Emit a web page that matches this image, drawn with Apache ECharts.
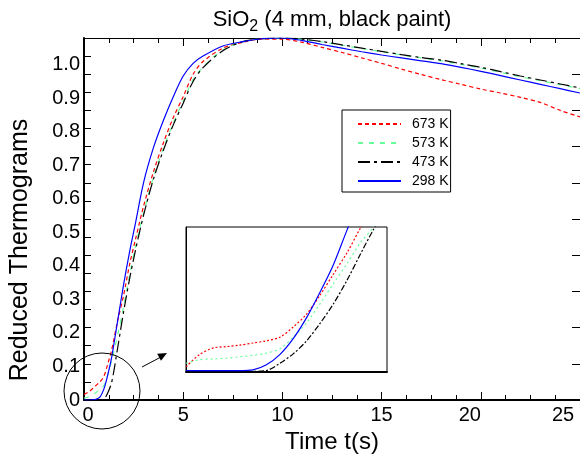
<!DOCTYPE html>
<html>
<head>
<meta charset="utf-8">
<script src="https://cdn.jsdelivr.net/npm/echarts@6/dist/echarts.min.js"></script>
<style>
html,body{margin:0;padding:0;background:#fff;}
#chart{width:580px;height:460px;}
</style>
</head>
<body>
<div id="chart"></div>
<script>
// ---- main curves (time in s, reduced thermogram) ----
var timeS = [0, 0.3, 0.6, 0.8, 1.0, 1.2, 1.4, 1.7, 2.0, 2.3, 2.6, 3.0, 3.5, 4.0, 4.5, 5.0, 5.5, 6.0, 7.0, 8.0, 9.0, 10, 11, 12, 13, 14, 15, 16, 17, 18, 19, 20, 21, 22, 23, 24, 25];
var v673 = [0.015, 0.025, 0.04, 0.05, 0.065, 0.10, 0.14, 0.22, 0.29, 0.375, 0.445, 0.535, 0.63, 0.71, 0.78, 0.838, 0.90, 0.935, 0.972, 0.988, 0.997, 0.997, 0.988, 0.974, 0.96, 0.945, 0.93, 0.914, 0.899, 0.885, 0.872, 0.859, 0.848, 0.836, 0.822, 0.80, 0.782];
var v573 = [0.005, 0.01, 0.02, 0.03, 0.04, 0.07, 0.11, 0.18, 0.26, 0.345, 0.425, 0.515, 0.615, 0.695, 0.765, 0.825, 0.885, 0.92, 0.967, 0.99, 0.998, 1.0, 0.996, 0.989, 0.98, 0.971, 0.962, 0.953, 0.945, 0.937, 0.927, 0.917, 0.905, 0.893, 0.882, 0.871, 0.86];
var v473 = [0, 0, 0, 0, 0.002, 0.02, 0.05, 0.145, 0.245, 0.335, 0.415, 0.51, 0.61, 0.69, 0.76, 0.82, 0.88, 0.918, 0.965, 0.99, 0.998, 1.0, 0.997, 0.99, 0.981, 0.972, 0.963, 0.954, 0.946, 0.939, 0.929, 0.919, 0.907, 0.895, 0.884, 0.873, 0.862];
var v298 = [0, 0, 0.002, 0.008, 0.03, 0.07, 0.12, 0.22, 0.32, 0.41, 0.49, 0.60, 0.697, 0.772, 0.838, 0.895, 0.93, 0.95, 0.978, 0.99, 0.998, 1.0, 0.993, 0.982, 0.972, 0.962, 0.953, 0.945, 0.937, 0.929, 0.919, 0.908, 0.896, 0.884, 0.872, 0.86, 0.848];

// ---- inset (zoom of the early-time region) ----
var insetTime = [0, 0.1, 0.2, 0.3, 0.4, 0.5, 0.6, 0.7, 0.8, 0.9, 1.0, 1.1, 1.2, 1.3, 1.4, 1.5];
var inset673 = [0.007, 0.024, 0.033, 0.035, 0.037, 0.040, 0.043, 0.048, 0.062, 0.08, 0.106, 0.135, 0.164, 0.198, 0.23, 0.26];
var inset573 = [0.012, 0.017, 0.018, 0.019, 0.021, 0.023, 0.026, 0.032, 0.048, 0.068, 0.094, 0.122, 0.149, 0.178, 0.20, 0.23];
var inset473 = [0.002, 0.001, 0.001, 0.001, 0.001, 0.001, 0.002, 0.012, 0.025, 0.043, 0.067, 0.094, 0.126, 0.162, 0.197, 0.23];
var inset298 = [0.002, 0.002, 0.002, 0.002, 0.002, 0.003, 0.010, 0.024, 0.046, 0.075, 0.11, 0.148, 0.195, 0.24, 0.28, 0.32];

var seriesNames = ['673 K', '573 K', '473 K', '298 K'];
var xTicks = [0, 5, 10, 15, 20, 25];
var yTickLabels = [0, 0.1, 0.2, 0.3, 0.4, 0.5, 0.6, 0.7, 0.8, 0.9, 1.0];

var FONT = '"Liberation Sans", Arial, sans-serif';
var colors = ['#ff0000', '#66ff99', '#000000', '#0000ff'];
var dashes = [[4, 3], [5, 6], [12, 4, 3, 4], 'solid'];
var insetDashes = [[2, 2], [2, 3], [6, 2, 2, 2], 'solid'];

function zip(t, v) { return t.map(function (x, i) { return [x, v[i]]; }); }

var mainVals = [v673, v573, v473, v298];
var insetVals = [inset673, inset573, inset473, inset298];

var series = [];
mainVals.forEach(function (vals, i) {
  series.push({
    name: seriesNames[i], type: 'line', xAxisIndex: 0, yAxisIndex: 0,
    data: zip(timeS, vals), symbol: 'none', smooth: 0.3,
    lineStyle: { color: colors[i], width: 1.2, type: dashes[i] },
    itemStyle: { color: colors[i] }
  });
});
insetVals.forEach(function (vals, i) {
  series.push({
    name: 'inset ' + seriesNames[i], type: 'line', xAxisIndex: 2, yAxisIndex: 3,
    data: zip(insetTime, vals), symbol: 'none', smooth: 0.3, clip: true,
    lineStyle: { color: colors[i], width: 1.2, type: insetDashes[i] }
  });
});

var chart = echarts.init(document.getElementById('chart'), null, { renderer: 'canvas' });
chart.setOption({
  animation: false,
  backgroundColor: '#fff',
  title: {
    text: '{a|SiO}{s|2}{a| (4 mm, black paint)}',
    left: 327, textAlign: 'center', top: 4,
    textStyle: {
      fontWeight: 'normal',
      rich: {
        a: { fontFamily: FONT, fontSize: 22, fontWeight: 'normal', color: '#000', lineHeight: 26, verticalAlign: 'top' },
        s: { fontFamily: FONT, fontSize: 16, fontWeight: 'normal', color: '#000', lineHeight: 26, verticalAlign: 'bottom' }
      }
    }
  },
  legend: {
    orient: 'vertical', left: 342, top: 110,
    data: seriesNames,
    itemWidth: 43, itemHeight: 14, itemGap: 5,
    padding: [7, 2, 4, 15],
    borderColor: '#000', borderWidth: 1, backgroundColor: '#fff',
    itemStyle: { opacity: 0 },
    textStyle: { fontFamily: FONT, fontSize: 14, color: '#000', padding: [0, 0, 0, 6] }
  },
  grid: [
    { left: 83, top: 38, width: 502, height: 362, show: false },
    { left: 186, top: 227, width: 201, height: 145, show: true, borderColor: '#000', borderWidth: 1, backgroundColor: '#fff' }
  ],
  xAxis: [
    {
      gridIndex: 0, type: 'value', position: 'bottom', min: xTicks[0], max: xTicks[xTicks.length - 1], interval: 5,
      axisLine: { onZero: false, lineStyle: { color: '#000', width: 2 } },
      axisTick: { inside: true, length: 8, lineStyle: { color: '#000' } },
      minorTick: { show: true, splitNumber: 4, length: 5, lineStyle: { color: '#000' } },
      splitLine: { show: false },
      axisLabel: {
        color: '#000', fontFamily: FONT, fontSize: 20, margin: 5,
        formatter: function (v) {
          if (v === 25) return '{e|25}';
          if (v === 20) return '{t|20}';
          if (v === 0) return '{z|0}';
          return String(v);
        },
        rich: {
          e: { fontFamily: FONT, fontSize: 20, color: '#000', padding: [0, 34, 0, 0] },
          t: { fontFamily: FONT, fontSize: 20, color: '#000', padding: [0, 22, 0, 0] },
          z: { fontFamily: FONT, fontSize: 20, color: '#000', padding: [0, 0, 0, 8] }
        }
      },
      name: 'Time t(s)', nameLocation: 'middle', nameGap: 29,
      nameTextStyle: { color: '#000', fontFamily: FONT, fontSize: 24 }
    },
    {
      gridIndex: 0, type: 'value', position: 'top', min: 0, max: 25, interval: 5,
      axisLine: { onZero: false, lineStyle: { color: '#000', width: 1 } },
      axisTick: { inside: true, length: 8, lineStyle: { color: '#000' } },
      minorTick: { show: true, splitNumber: 4, length: 5, lineStyle: { color: '#000' } },
      splitLine: { show: false }, axisLabel: { show: false }
    },
    {
      gridIndex: 1, type: 'value', min: 0, max: 1.5,
      axisLine: { onZero: false, lineStyle: { color: '#000', width: 2 } },
      axisTick: { show: false }, axisLabel: { show: false }, splitLine: { show: false }
    }
  ],
  yAxis: [
    {
      gridIndex: 0, type: 'value', position: 'left', min: 0, max: 1, interval: 0.05,
      axisLine: { show: true, onZero: false, lineStyle: { color: '#000', width: 2 } },
      axisTick: { show: true, inside: true, length: 7, lineStyle: { color: '#000' } },
      axisLabel: { show: false }, splitLine: { show: false }
    },
    {
      gridIndex: 0, type: 'value', position: 'left', min: 0, max: 1.08, interval: 0.1,
      axisLine: { show: false }, axisTick: { show: false }, splitLine: { show: false },
      axisLabel: {
        color: '#000', fontFamily: FONT, fontSize: 20, margin: 4,
        formatter: function (v) {
          if (v > yTickLabels[yTickLabels.length - 1] + 1e-6) return '';
          return v === 0 ? '0' : v.toFixed(1);
        }
      },
      name: 'Reduced Thermograms', nameLocation: 'middle', nameGap: 51,
      nameTextStyle: { color: '#000', fontFamily: FONT, fontSize: 25, padding: [0, 62, 0, 0] }
    },
    {
      gridIndex: 0, type: 'value', position: 'right', min: 0, max: 1, interval: 0.1,
      axisLine: { show: true, onZero: false, lineStyle: { color: '#000', width: 1 } },
      axisTick: { show: true, inside: true, length: 8, lineStyle: { color: '#000' } },
      axisLabel: { show: false }, splitLine: { show: false }
    },
    {
      gridIndex: 1, type: 'value', min: 0, max: 0.2,
      axisLine: { show: true, onZero: false, lineStyle: { color: '#000', width: 1 } },
      axisTick: { show: false }, axisLabel: { show: false }, splitLine: { show: false }
    }
  ],
  series: series,
  graphic: [
    { type: 'circle', shape: { cx: 102, cy: 391, r: 38 }, style: { fill: 'none', stroke: '#000', lineWidth: 1 }, z: 100 },
    { type: 'line', shape: { x1: 142, y1: 367, x2: 160, y2: 357.5 }, style: { stroke: '#000', lineWidth: 1 }, z: 100 },
    { type: 'polygon', shape: { points: [[167, 353], [157.2, 353.7], [161, 360.7]] }, style: { fill: '#000' }, z: 100 }
  ]
});
</script>
</body>
</html>
